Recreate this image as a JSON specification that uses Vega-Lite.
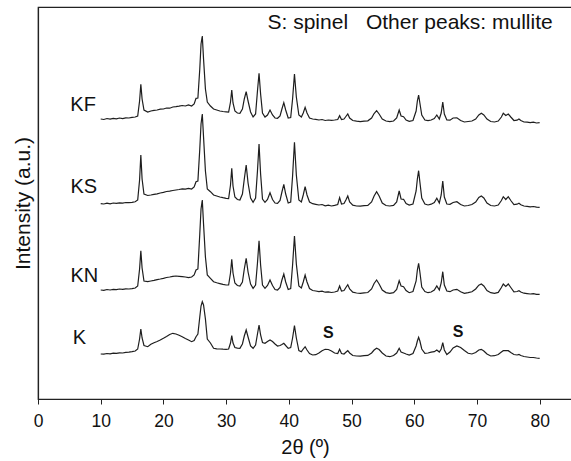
{
 "$schema": "https://vega.github.io/schema/vega-lite/v6.json",
 "width": 534, "height": 392,
 "autosize": "none",
 "padding": {"left": 38, "top": 7, "right": 0, "bottom": 62},
 "config": {"view": {"stroke": "#222", "strokeWidth": 1.2}, "font": "Liberation Sans"},
 "datasets": {
  "xrd": [
   {"x":10,"KF":280,"KS":195.3,"KN":109,"K":45},
   {"x":10.5,"KF":279.5,"KS":195,"KN":108.7,"K":44.8},
   {"x":11,"KF":280.5,"KS":195.8,"KN":109.5,"K":45.5},
   {"x":11.5,"KF":279.8,"KS":195.2,"KN":109,"K":45.2},
   {"x":12,"KF":280.6,"KS":196,"KN":109.6,"K":45.8},
   {"x":12.5,"KF":280.2,"KS":195.6,"KN":109.3,"K":45.6},
   {"x":13,"KF":281,"KS":196.2,"KN":110,"K":46.2},
   {"x":13.5,"KF":280.4,"KS":195.9,"KN":109.6,"K":46},
   {"x":14,"KF":281.2,"KS":196.5,"KN":110.2,"K":46.6},
   {"x":14.5,"KF":281,"KS":196.3,"KN":110,"K":46.9},
   {"x":15,"KF":281.6,"KS":196.7,"KN":110.4,"K":47.3},
   {"x":15.5,"KF":282,"KS":197.2,"KN":111,"K":48},
   {"x":15.9,"KF":283,"KS":199,"KN":113,"K":50},
   {"x":16.2,"KF":298,"KS":219,"KN":130,"K":60},
   {"x":16.4,"KF":314.7,"KS":244,"KN":148.3,"K":70},
   {"x":16.6,"KF":300,"KS":220,"KN":131,"K":61},
   {"x":16.9,"KF":289,"KS":205,"KN":118,"K":53.5},
   {"x":17.5,"KF":287,"KS":203.5,"KN":117.3,"K":52.3},
   {"x":18,"KF":288,"KS":204,"KN":118,"K":54.7},
   {"x":18.5,"KF":288.6,"KS":204.6,"KN":118.6,"K":56.2},
   {"x":19,"KF":289,"KS":205.2,"KN":119.4,"K":57.5},
   {"x":19.5,"KF":289.8,"KS":206,"KN":120,"K":59},
   {"x":20,"KF":290,"KS":206.7,"KN":120.7,"K":60.7},
   {"x":20.5,"KF":291,"KS":207.5,"KN":121.5,"K":62.5},
   {"x":21,"KF":290.8,"KS":207.8,"KN":122,"K":64.5},
   {"x":21.5,"KF":292,"KS":208.5,"KN":122.6,"K":65.7},
   {"x":22,"KF":292.3,"KS":209,"KN":123,"K":65},
   {"x":22.5,"KF":292.8,"KS":209.5,"KN":122.7,"K":63.8},
   {"x":23,"KF":293.5,"KS":210.2,"KN":122.4,"K":62.3},
   {"x":23.5,"KF":293,"KS":209.8,"KN":122,"K":60.5},
   {"x":24,"KF":294,"KS":210.7,"KN":121.3,"K":59},
   {"x":24.5,"KF":293,"KS":210,"KN":122,"K":57.3},
   {"x":24.9,"KF":295,"KS":212,"KN":124,"K":58.5},
   {"x":25.2,"KF":300.7,"KS":217.3,"KN":129,"K":62.3},
   {"x":25.5,"KF":301,"KS":218,"KN":130,"K":65},
   {"x":25.8,"KF":330,"KS":250,"KN":165,"K":82},
   {"x":26.0,"KF":355,"KS":275,"KN":190,"K":93},
   {"x":26.2,"KF":363,"KS":285,"KN":199,"K":97.3},
   {"x":26.4,"KF":340,"KS":262,"KN":175,"K":94},
   {"x":26.7,"KF":310,"KS":228,"KN":142,"K":80},
   {"x":27.0,"KF":297,"KS":210,"KN":124,"K":60},
   {"x":27.5,"KF":293,"KS":207.3,"KN":120.7,"K":56},
   {"x":28,"KF":290,"KS":204,"KN":117.3,"K":50.7},
   {"x":28.5,"KF":289,"KS":203,"KN":116.2,"K":50.2},
   {"x":29,"KF":288,"KS":202,"KN":115.4,"K":50},
   {"x":29.5,"KF":287.5,"KS":201.3,"KN":114.6,"K":49.8},
   {"x":30,"KF":287.2,"KS":200.7,"KN":114,"K":49.7},
   {"x":30.4,"KF":287,"KS":200.5,"KN":114,"K":50},
   {"x":30.7,"KF":297,"KS":214,"KN":126,"K":56},
   {"x":30.9,"KF":309,"KS":230.7,"KN":139.7,"K":63.3},
   {"x":31.1,"KF":296,"KS":213,"KN":126,"K":56},
   {"x":31.4,"KF":288,"KS":202,"KN":116,"K":51.5},
   {"x":31.8,"KF":286,"KS":199.5,"KN":113.5,"K":50.8},
   {"x":32.2,"KF":285.7,"KS":199,"KN":113,"K":50.7},
   {"x":32.6,"KF":290,"KS":205,"KN":117,"K":55},
   {"x":32.9,"KF":300,"KS":220,"KN":130,"K":63},
   {"x":33.2,"KF":307.3,"KS":234,"KN":140.7,"K":69},
   {"x":33.5,"KF":298,"KS":216,"KN":127,"K":62},
   {"x":33.9,"KF":287,"KS":201,"KN":115,"K":53},
   {"x":34.3,"KF":282,"KS":196.7,"KN":110.7,"K":50.7},
   {"x":34.7,"KF":285,"KS":201,"KN":114,"K":54},
   {"x":35.0,"KF":308,"KS":228,"KN":136,"K":65},
   {"x":35.25,"KF":325.7,"KS":255,"KN":158.3,"K":74},
   {"x":35.5,"KF":305,"KS":225,"KN":134,"K":64},
   {"x":35.8,"KF":286,"KS":200,"KN":114,"K":56.5},
   {"x":36.2,"KF":282,"KS":196.7,"KN":110.7,"K":55.7},
   {"x":36.6,"KF":284,"KS":199.5,"KN":113.5,"K":57.5},
   {"x":37.0,"KF":289,"KS":206.3,"KN":119,"K":59},
   {"x":37.4,"KF":284,"KS":199.5,"KN":113.5,"K":57.5},
   {"x":37.8,"KF":281,"KS":196,"KN":109.5,"K":55},
   {"x":38.2,"KF":280.7,"KS":195.7,"KN":109,"K":53},
   {"x":38.6,"KF":283,"KS":198.5,"KN":111.5,"K":53.5},
   {"x":38.9,"KF":290,"KS":207,"KN":119,"K":54.5},
   {"x":39.2,"KF":296.3,"KS":214.7,"KN":125,"K":55.7},
   {"x":39.5,"KF":289,"KS":205,"KN":117,"K":53.5},
   {"x":39.9,"KF":281,"KS":196,"KN":109.5,"K":50.7},
   {"x":40.3,"KF":281.5,"KS":197,"KN":110.5,"K":51.5},
   {"x":40.6,"KF":300,"KS":223,"KN":134,"K":61},
   {"x":40.9,"KF":325,"KS":256.7,"KN":163,"K":73.3},
   {"x":41.2,"KF":302,"KS":224,"KN":135,"K":61},
   {"x":41.6,"KF":284,"KS":199,"KN":113,"K":48.5},
   {"x":42.0,"KF":282,"KS":197,"KN":111,"K":47.3},
   {"x":42.3,"KF":286,"KS":204,"KN":117,"K":50},
   {"x":42.6,"KF":291.7,"KS":212.3,"KN":124,"K":52.3},
   {"x":42.9,"KF":286,"KS":204,"KN":117,"K":49},
   {"x":43.3,"KF":281,"KS":197,"KN":110.5,"K":45.5},
   {"x":43.8,"KF":280,"KS":195.3,"KN":108.5,"K":44},
   {"x":44.3,"KF":279.7,"KS":194.7,"KN":108,"K":44.3},
   {"x":44.8,"KF":279,"KS":194,"KN":107.4,"K":46},
   {"x":45.3,"KF":279.5,"KS":194.5,"KN":107.8,"K":48.3},
   {"x":45.8,"KF":278.5,"KS":193.2,"KN":106.8,"K":49.7},
   {"x":46.3,"KF":279,"KS":193.8,"KN":107.2,"K":49.5},
   {"x":46.8,"KF":278.6,"KS":193,"KN":106.5,"K":48},
   {"x":47.3,"KF":279,"KS":193.6,"KN":107,"K":46},
   {"x":47.8,"KF":279.5,"KS":194.5,"KN":108,"K":45.5},
   {"x":48.1,"KF":283.3,"KS":201.3,"KN":113,"K":49.7},
   {"x":48.4,"KF":279.5,"KS":195,"KN":108,"K":45.5},
   {"x":48.8,"KF":280,"KS":195.5,"KN":108.5,"K":45},
   {"x":49.1,"KF":282.5,"KS":199,"KN":111.5,"K":46.8},
   {"x":49.4,"KF":285,"KS":203,"KN":114.3,"K":48.3},
   {"x":49.7,"KF":281,"KS":197,"KN":110,"K":46},
   {"x":50.2,"KF":278.5,"KS":193.8,"KN":106.8,"K":43.5},
   {"x":50.8,"KF":277.8,"KS":193,"KN":106,"K":43},
   {"x":51.4,"KF":277.3,"KS":192.8,"KN":105.7,"K":42.8},
   {"x":52,"KF":277.8,"KS":193.4,"KN":106.2,"K":43.4},
   {"x":52.6,"KF":278.2,"KS":193.5,"KN":106.5,"K":43.6},
   {"x":53.2,"KF":281,"KS":197,"KN":110,"K":46},
   {"x":53.6,"KF":285.5,"KS":203,"KN":115.5,"K":49},
   {"x":54.0,"KF":288.3,"KS":207.3,"KN":119,"K":50.7},
   {"x":54.4,"KF":285,"KS":203,"KN":115,"K":49.5},
   {"x":54.9,"KF":280,"KS":196,"KN":109,"K":46},
   {"x":55.5,"KF":278,"KS":193.5,"KN":106.4,"K":43},
   {"x":56.1,"KF":277.3,"KS":193,"KN":105.7,"K":42.3},
   {"x":56.7,"KF":278,"KS":193.6,"KN":106.4,"K":43.5},
   {"x":57.2,"KF":281,"KS":197,"KN":109.5,"K":46},
   {"x":57.6,"KF":289,"KS":208,"KN":118.3,"K":50.7},
   {"x":57.9,"KF":283,"KS":200,"KN":113,"K":47},
   {"x":58.3,"KF":282.3,"KS":199.7,"KN":112.3,"K":46},
   {"x":58.7,"KF":279,"KS":195.5,"KN":108.5,"K":45},
   {"x":59.2,"KF":277.7,"KS":194,"KN":106.3,"K":44},
   {"x":59.8,"KF":278.5,"KS":195,"KN":107.5,"K":45.5},
   {"x":60.3,"KF":288,"KS":208,"KN":118,"K":53},
   {"x":60.5,"KF":298,"KS":220,"KN":129,"K":58},
   {"x":60.7,"KF":304,"KS":228.3,"KN":135.7,"K":61.7},
   {"x":60.9,"KF":296,"KS":217,"KN":127,"K":58},
   {"x":61.2,"KF":284,"KS":201,"KN":112,"K":50},
   {"x":61.7,"KF":279,"KS":195,"KN":107.5,"K":45.7},
   {"x":62.2,"KF":278.3,"KS":194,"KN":106.3,"K":46},
   {"x":62.7,"KF":279,"KS":194.8,"KN":107,"K":46.8},
   {"x":63.2,"KF":280.5,"KS":196.5,"KN":109,"K":47.3},
   {"x":63.6,"KF":284,"KS":200.7,"KN":113,"K":49},
   {"x":64.0,"KF":280,"KS":196,"KN":109,"K":47},
   {"x":64.3,"KF":286,"KS":204,"KN":116,"K":50},
   {"x":64.55,"KF":297,"KS":218,"KN":127.3,"K":56.3},
   {"x":64.8,"KF":285,"KS":202,"KN":114,"K":49},
   {"x":65.2,"KF":279,"KS":195,"KN":108,"K":44.5},
   {"x":65.7,"KF":278.8,"KS":194.7,"KN":107.3,"K":47},
   {"x":66.2,"KF":281,"KS":196.5,"KN":109,"K":51},
   {"x":66.8,"KF":281.2,"KS":197.3,"KN":109.7,"K":53},
   {"x":67.4,"KF":278.5,"KS":194.5,"KN":107.2,"K":51.5},
   {"x":68,"KF":277,"KS":193,"KN":105.7,"K":48.5},
   {"x":68.6,"KF":277.5,"KS":193.5,"KN":106.3,"K":45.7},
   {"x":69.2,"KF":278,"KS":194.5,"KN":107.2,"K":45},
   {"x":69.8,"KF":280,"KS":197,"KN":110,"K":46.5},
   {"x":70.3,"KF":284,"KS":201.5,"KN":113.8,"K":49},
   {"x":70.7,"KF":285.7,"KS":203,"KN":115,"K":49.7},
   {"x":71.1,"KF":284,"KS":201,"KN":113,"K":48},
   {"x":71.6,"KF":280,"KS":196,"KN":108.5,"K":45},
   {"x":72.2,"KF":277.5,"KS":193.5,"KN":106.3,"K":43},
   {"x":72.8,"KF":277,"KS":193,"KN":105.7,"K":43.3},
   {"x":73.4,"KF":278,"KS":194,"KN":106.6,"K":44.5},
   {"x":73.9,"KF":282,"KS":198.5,"KN":111.5,"K":47},
   {"x":74.2,"KF":285.7,"KS":202.3,"KN":115,"K":48.3},
   {"x":74.6,"KF":283.5,"KS":199.5,"KN":112.5,"K":48.5},
   {"x":75.0,"KF":285,"KS":202.3,"KN":115,"K":48.3},
   {"x":75.4,"KF":282,"KS":198.5,"KN":111.5,"K":46.5},
   {"x":75.9,"KF":278.5,"KS":194.5,"KN":107.2,"K":44.5},
   {"x":76.4,"KF":278.8,"KS":194.8,"KN":107.5,"K":44},
   {"x":76.7,"KF":280,"KS":195.7,"KN":108.3,"K":44.5},
   {"x":77.0,"KF":278.5,"KS":194.3,"KN":107,"K":43.5},
   {"x":77.5,"KF":277,"KS":193,"KN":105.8,"K":42.5},
   {"x":78,"KF":276.8,"KS":192.6,"KN":105.4,"K":42},
   {"x":78.5,"KF":276.3,"KS":192.2,"KN":105,"K":41.5},
   {"x":79,"KF":276.8,"KS":192.5,"KN":105.3,"K":41.5},
   {"x":79.5,"KF":276,"KS":191.8,"KN":104.6,"K":41},
   {"x":80,"KF":276.3,"KS":191.7,"KN":104.7,"K":40.7}
  ],
  "labels": [
   {"t":"KF","x":7.2,"I":294},
   {"t":"KS","x":7.3,"I":212.3},
   {"t":"KN","x":7.4,"I":123.3},
   {"t":"K","x":6.6,"I":60.7}
  ],
  "notes": [
   {"t":"S: spinel","x":36.6,"I":376},
   {"t":"Other peaks: mullite","x":52.3,"I":376}
  ],
  "spinel": [
   {"t":"S","x":46.3,"I":66},
   {"t":"S","x":67.0,"I":67}
  ]
 },
 "layer": [
  {
   "data": {"name": "xrd"},
   "transform": [{"fold": ["KF", "KS", "KN", "K"], "as": ["s", "I"]}],
   "mark": {"type": "line", "color": "#1e1e1e", "strokeWidth": 1.2},
   "encoding": {
    "x": {"field": "x", "type": "quantitative",
     "scale": {"domain": [0, 85.16], "nice": false, "zero": false},
     "axis": {"title": "2θ (º)", "values": [0,5,10,15,20,25,30,35,40,45,50,55,60,65,70,75,80],
      "labelExpr": "datum.value % 10 === 0 ? datum.label : ''",
      "grid": false, "tickSize": 5, "labelFontSize": 17.5, "titleFontSize": 20,
      "titleFontWeight": "normal", "labelPadding": 8, "titlePadding": 8,
      "domainColor": "#222", "tickColor": "#222", "labelColor": "#111", "titleColor": "#111",
      "domainWidth": 1.2, "labelFlush": false}},
    "y": {"field": "I", "type": "quantitative",
     "scale": {"domain": [0, 392], "nice": false},
     "axis": {"title": "Intensity (a.u.)", "ticks": false, "labels": false, "grid": false,
      "domainColor": "#222", "domainWidth": 1.2, "titleFontSize": 21, "titleFontWeight": "normal",
      "titleColor": "#111", "titlePadding": 5}},
    "detail": {"field": "s"}
   }
  },
  {
   "data": {"name": "labels"},
   "mark": {"type": "text", "fontSize": 20, "align": "center", "baseline": "middle", "color": "#111"},
   "encoding": {
    "x": {"field": "x", "type": "quantitative"},
    "y": {"field": "I", "type": "quantitative"},
    "text": {"field": "t"}
   }
  },
  {
   "data": {"name": "notes"},
   "mark": {"type": "text", "fontSize": 21, "align": "left", "baseline": "middle", "color": "#111"},
   "encoding": {
    "x": {"field": "x", "type": "quantitative"},
    "y": {"field": "I", "type": "quantitative"},
    "text": {"field": "t"}
   }
  },
  {
   "data": {"name": "spinel"},
   "mark": {"type": "text", "fontSize": 16, "fontWeight": "bold", "align": "center", "baseline": "middle", "color": "#111"},
   "encoding": {
    "x": {"field": "x", "type": "quantitative"},
    "y": {"field": "I", "type": "quantitative"},
    "text": {"field": "t"}
   }
  }
 ]
}
